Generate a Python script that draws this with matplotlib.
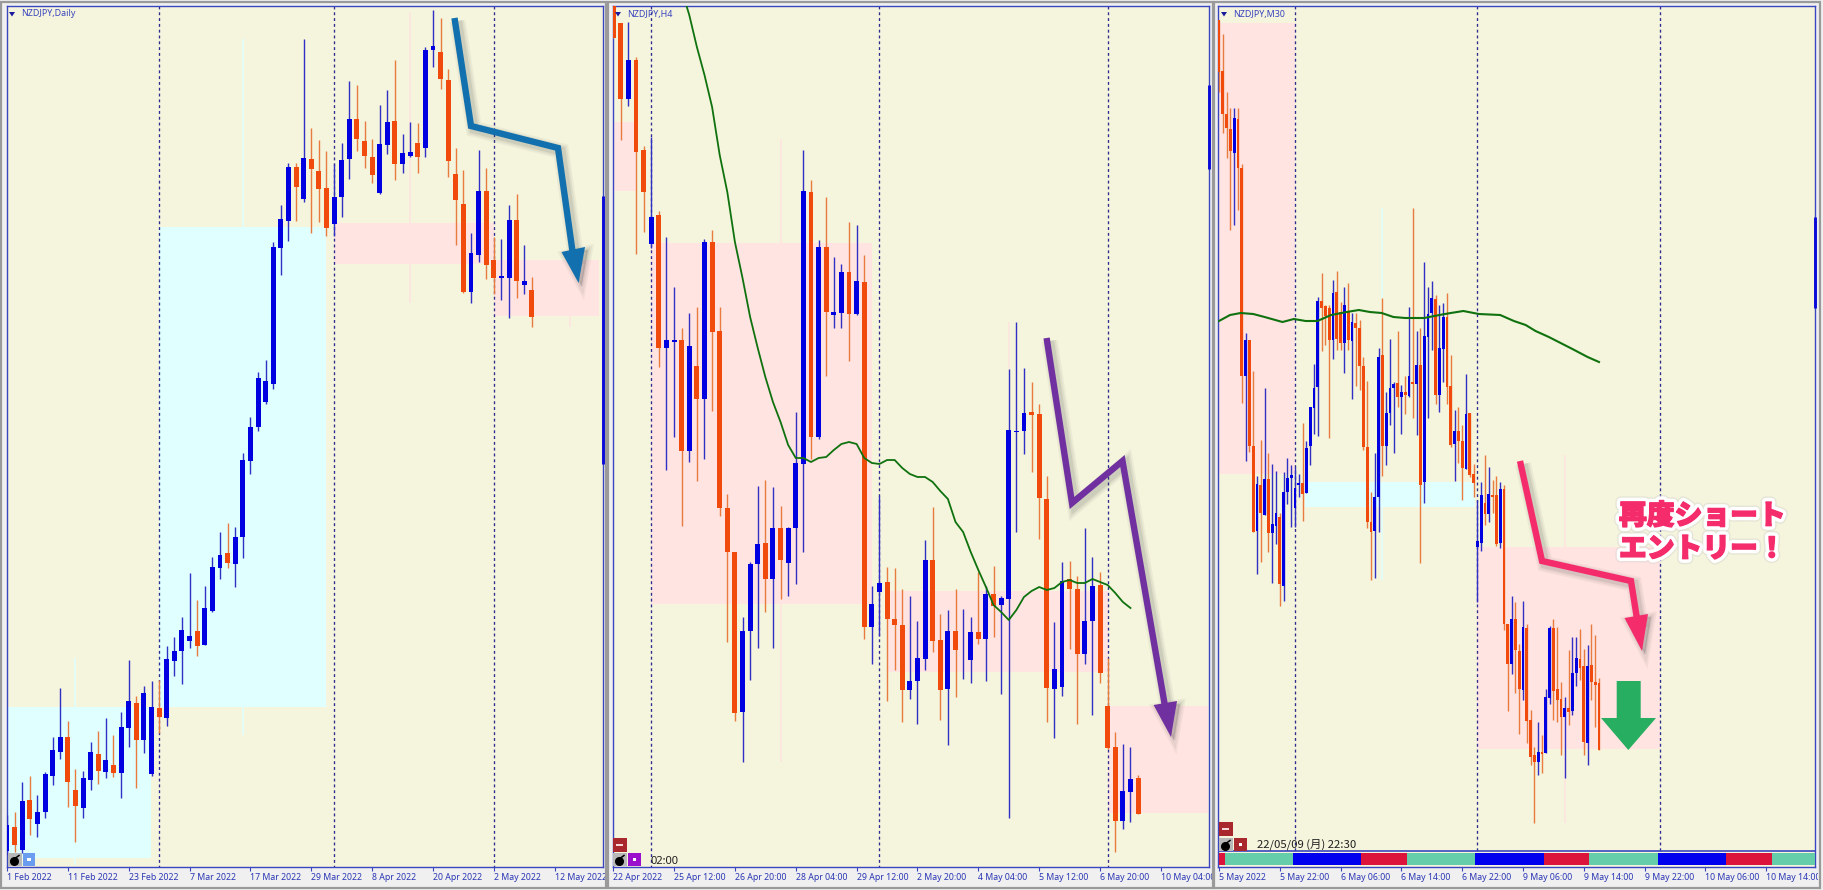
import matplotlib
matplotlib.use("Agg")
import matplotlib.pyplot as plt
import matplotlib.patheffects as pe
from matplotlib.patches import Rectangle

W, H = 1824, 890
BLUE, ORANGE = "#0000e0", "#f04a0c"
BLUE_W, ORANGE_W = "#3030c4", "#e87c3e"
PINK, CYAN, BG = "#ffe4e1", "#e0ffff", "#f5f4dc"
FRAME, TXT = "#3a46c0", "#2a36b4"

# ---- values, in chart rows (row 0 = top of the window) ----
# B = rising candle, O = falling candle
daily_dir = ("BOBOBBBBOO" "BBOBOBBOBB" "OBBBBOBBBO" "BBBBBBBBOB" "OOOBBBOOOB" "BOBBOBBOOO" "OBBOOBBOBO")
daily_high = [815,812,782,776,795,772,737,688,721,769,771,742,731,718,735,712,660,696,686,681,680,646,637,617,573,600,586,557,532,523,527,453,417,372,360,242,205,163,163,39,128,140,151,164,143,81,85,121,139,105,90,60,134,122,123,47,10,18,69,148,170,233,150,168,237,239,205,194,245,277]
daily_top = [825,827,801,800,812,774,750,737,737,790,778,752,754,760,765,727,701,703,693,707,708,659,651,630,636,631,608,567,555,553,537,460,427,378,381,247,219,167,167,158,159,171,188,197,160,119,119,141,157,144,122,121,153,152,143,50,46,52,80,174,204,253,191,191,260,276,220,220,281,290]
daily_bot = [851,845,850,819,824,812,776,752,782,806,808,780,771,772,773,773,728,740,740,774,717,718,661,651,641,646,645,611,568,563,564,537,461,427,402,384,248,221,187,199,169,189,228,224,197,159,139,156,175,193,145,164,164,156,157,148,50,79,161,200,292,292,255,265,278,278,278,281,285,317]
daily_low = [855,852,853,835,837,818,785,759,807,842,818,790,784,778,777,798,747,788,753,776,733,726,676,684,648,656,645,612,579,568,587,558,474,431,404,389,275,241,221,202,233,222,236,236,217,179,151,168,183,194,154,180,173,157,173,157,67,89,177,245,293,303,262,279,294,300,318,298,294,327]

h4_dir = ("OOBOOBOBBO" "BOBOOOOBBB" "OBOBBBOBOB" "BOBOBBOOOB" "BBOOBOBBOB" "OBBBBOOOBB" "OOBBOOOBBO")
h4_high = [6,23,22,57,146,137,211,237,287,328,313,307,239,230,307,494,552,617,562,486,480,487,506,527,412,150,180,240,197,257,264,222,225,255,586,496,567,568,589,596,621,540,507,614,610,589,609,617,572,586,566,596,369,322,368,382,404,476,622,562,561,576,528,557,572,658,732,744,747,775]
h4_top = [6,23,60,60,150,217,215,340,340,340,346,366,242,242,331,508,552,631,564,544,543,528,528,528,463,191,192,247,247,312,272,272,281,282,604,583,582,619,625,681,658,560,560,640,631,631,650,632,632,594,594,598,430,431,413,412,414,499,669,581,579,589,621,586,585,706,747,791,779,778]
h4_bot = [38,99,99,152,192,244,348,348,342,451,451,399,399,332,508,552,713,712,631,564,579,579,560,563,528,464,437,437,312,315,313,314,314,627,627,592,619,625,690,690,681,659,641,690,689,650,650,660,639,639,606,605,599,432,431,415,498,688,689,687,589,654,654,621,673,748,821,821,792,814]
h4_low = [38,140,106,254,232,248,367,470,437,526,462,481,459,411,516,642,721,762,680,648,612,648,599,596,584,552,459,439,376,328,328,361,315,639,664,636,701,670,722,699,724,670,652,720,745,697,679,683,644,681,637,694,818,532,454,472,539,722,738,696,649,724,664,715,683,749,852,829,822,814]
h4_ma_idx = [9.6] + list(range(10, 69))
h4_ma = [5,15,47,75,107,155,192,242,278,317,348,377,402,422,445,458,458,462,458,457,450,444,442,444,458,463,464,460,460,468,474,477,477,482,491,499,522,532,552,570,587,605,612,620,610,597,591,587,590,588,582,580,583,583,579,582,585,593,602,608]

m30_dir = ("OOOOBOOBOO" "BOBOBBOBBB" "BBOBBBBOOO" "BOOBOBOOOO" "OBBOBBBOBO" "BOBOBBBOBB"
           "OOBOOBOOBB" "OBOOBOOBOO" "BOOOBOBBOO" "OBOBBOOBOO" "O")
m30_high = [20,34,92,108,108,108,164,333,340,371,476,440,388,453,464,471,513,472,458,465,467,474,423,441,407,364,297,273,305,305,280,271,302,287,283,313,313,320,357,381,492,453,348,298,392,339,382,331,385,376,307,208,331,328,262,287,281,295,305,303,293,355,410,407,425,374,413,464,500,482,455,467,480,476,482,485,624,596,602,644,601,624,710,747,722,735,689,626,619,627,682,697,650,637,637,629,649,645,624,635,678]
m30_top = [20,71,114,129,118,119,168,340,340,446,484,485,479,479,524,513,517,492,478,475,488,483,483,448,407,388,301,301,306,308,293,292,312,305,312,322,323,328,366,447,522,497,357,355,413,388,384,383,392,392,376,382,365,365,336,314,298,299,348,317,317,386,431,431,441,414,413,474,541,495,503,494,495,495,489,489,624,619,619,651,627,628,720,755,752,752,697,628,628,689,699,708,708,673,658,659,666,666,665,682,683]
m30_bot = [72,114,128,151,153,168,376,376,446,532,531,513,515,533,533,526,584,586,492,478,508,485,494,493,446,408,387,308,316,340,340,339,343,343,340,341,328,366,447,522,532,531,497,446,446,413,388,397,397,395,396,384,384,485,482,337,313,395,395,349,387,445,444,441,468,469,475,483,547,543,514,514,497,544,543,624,664,664,650,689,690,721,757,762,762,754,753,698,691,700,717,717,712,711,673,668,742,743,682,685,750]
m30_low = [92,133,158,230,225,210,403,461,452,532,574,562,515,552,583,544,606,601,504,527,527,497,521,493,465,434,436,351,345,438,359,350,350,373,350,399,386,390,450,528,580,578,532,476,465,425,453,407,434,414,397,418,435,563,503,418,350,404,412,382,404,447,481,463,500,469,477,497,602,551,525,522,513,546,548,630,711,674,693,734,700,743,765,823,775,773,753,704,720,722,755,778,725,715,686,680,755,765,700,727,750]
m30_ma_idx = [0,2.9,5.7,9,12,16.7,19.7,22.8,25.9,29.5,33.6,36.8,39.7,42.8,45.9,49,54,58,61,64.3,68.4,74,77.6,80.7,83.3,86.8,89.9,93,97,100]
m30_ma = [321,315,313,314,317,322,319,321,321,315,312,310,312,313,317,318,318,315,313,311,314,315,321,325,331,337,343,349,357,362]

daily_ticks = ["1 Feb 2022","11 Feb 2022","23 Feb 2022","7 Mar 2022","17 Mar 2022","29 Mar 2022","8 Apr 2022","20 Apr 2022","2 May 2022","12 May 2022"]
h4_ticks = ["22 Apr 2022","25 Apr 12:00","26 Apr 20:00","28 Apr 04:00","29 Apr 12:00","2 May 20:00","4 May 04:00","5 May 12:00","6 May 20:00","10 May 04:00"]
m30_ticks = ["5 May 2022","5 May 22:00","6 May 06:00","6 May 14:00","6 May 22:00","9 May 06:00","9 May 14:00","9 May 22:00","10 May 06:00","10 May 14:00"]

# zones: (start bar, end bar, top row, bottom row, colour)
daily_zones = [(20,42,227,707,CYAN),(-1,18.9,707,858,CYAN),(43,64,223,264,PINK),(64,77.8,260,316,PINK)]
h4_zones = [(-1,3,122,191,PINK),(5,34,243,604,PINK),(36,65,591,672,PINK),(65,78.2,706,813,PINK)]
m30_zones = [(-1,20,23,474,PINK),(22.6,67.4,482,507,CYAN),(68,116,547,749,PINK)]
# pale range marks: (bar, top row, bottom row, colour)
daily_pale = [(31,39,227,CYAN),(31,707,735,CYAN),(9,658,707,CYAN),(9,858,865,CYAN),(53,12,303,PINK),(74,316,327,PINK)]
h4_pale = [(22,139,243,PINK),(22,604,762,PINK),(52,322,369,PINK)]
m30_pale = [(43,208,298,CYAN),(43,507,580,CYAN),(91,455,547,PINK),(91,749,823,PINK)]
daily_days, h4_days, m30_days = [20,43,64], [5,35,65], [20,68,116]
strip_len = [1.5,18,18,12,18,18,12,18,18,12,14.5]
strip_col = ["#dc143c","#66cdaa","#0000ee","#dc143c","#66cdaa","#0000ee","#dc143c","#66cdaa","#0000ee","#dc143c","#66cdaa"]

blue_arrow = [(454.5,18),(471,126),(558,148),(574,262)]
blue_head = [(561.5,252),(585,247),(578.6,283)]
purple_arrow = [(1046.6,338),(1072,503),(1122.5,461),(1166,712)]
purple_head = [(1153.6,705),(1177,701),(1171,737)]
pink_arrow = [(1520,461),(1542,561),(1631,581),(1638,625)]
pink_head = [(1624.5,618),(1648,614),(1642,651)]
green_arrow = [(1616.7,681),(1640.7,681),(1640.7,718),(1656,718),(1628.3,750),(1601,718),(1616.7,718)]

fig = plt.figure(figsize=(W/100, H/100), dpi=100, facecolor="#f0f0f0")
over = fig.add_axes([0, 0, 1, 1], zorder=10)
over.set_xlim(0, W); over.set_ylim(H, 0); over.axis("off"); over.patch.set_alpha(0)


def panel(l, r, t, b, bar0, per, zones, pale, days, ticks, step, days_bottom):
    ax = fig.add_axes([l/W, 1-b/H, (r-l)/W, (b-t)/H], facecolor=BG)
    ax.set_xlim((l-bar0)/per, (r-bar0)/per)
    ax.set_ylim(b, t)
    ax.set_yticks([])
    for s in ax.spines.values():
        s.set_color(FRAME); s.set_linewidth(1.0)
    ax.set_xticks([i*step for i in range(len(ticks))])
    ax.set_xticklabels(ticks, ha="left", fontsize=6.3, color=TXT, family="Noto Sans")
    ax.tick_params(axis="x", length=3, width=0.8, color=FRAME, pad=1.5)
    clip = Rectangle((l-3, 0), r-l+6, H, transform=over.transData)
    for lab in ax.get_xticklabels():
        lab.set_clip_on(True); lab.set_clip_path(clip)
    for a, e, tp, bt, c in zones:
        ax.fill_between([a, e], tp, bt, color=c, lw=0, zorder=1)
    for i, tp, bt, c in pale:
        ax.vlines(i, tp, bt, color=c, lw=1.1, zorder=1.2)
    ax.vlines(days, t, days_bottom, color="#2c2c90", lw=0.95, linestyles=(0, (2.2, 2.2)), zorder=1.5)
    return ax


def candles(ax, dirs, high, top, bot, low, width):
    idx = list(range(len(high)))
    wick = [BLUE_W if d == "B" else ORANGE_W for d in dirs]
    body = [BLUE if d == "B" else ORANGE for d in dirs]
    ax.vlines(idx, high, low, colors=wick, lw=1.0, zorder=3)
    ax.bar(idx, [b-a for a, b in zip(top, bot)], bottom=top, width=width, color=body, lw=0, zorder=4)


ax1 = panel(7, 603, 6, 867, 7, 7.607, daily_zones, daily_pale, daily_days, daily_ticks, 8, 867)
candles(ax1, daily_dir, daily_high, daily_top, daily_bot, daily_low, 0.65)

ax2 = panel(613, 1209, 6, 867, 613.2, 7.607, h4_zones, h4_pale, h4_days, h4_ticks, 8, 867)
candles(ax2, h4_dir, h4_high, h4_top, h4_bot, h4_low, 0.65)
ax2.plot(h4_ma_idx, h4_ma, color="#0f720f", lw=1.3, zorder=5)

ax3 = panel(1218, 1815, 6, 867, 1219, 3.8, m30_zones, m30_pale, m30_days, m30_ticks, 16, 851)
candles(ax3, m30_dir, m30_high, m30_top, m30_bot, m30_low, 0.74)
ax3.plot(m30_ma_idx, m30_ma, color="#0f720f", lw=1.5, zorder=5)
ax3.hlines(851, -1, 160, color=FRAME, lw=1.2, zorder=6)
pos = 0
for n, c in zip(strip_len, strip_col):
    ax3.broken_barh([(pos, n)], (852.5, 12.5), facecolors=c, lw=0, zorder=6)
    pos += n

# right-hand scale markers
for x, y0, y1 in [(603.5, 196, 464), (1209, 85, 169), (1815, 217, 308)]:
    over.plot([x, x], [y0, y1], color="#0a0ad8", lw=2.1, solid_capstyle="butt")

# window borders
for x0, x1 in [(1.5, 606.5), (608, 1213), (1214, 1820)]:
    over.add_patch(Rectangle((x0, 1.5), x1-x0, 886, fill=False, ec="#9a9a9a", lw=1.6))

# titles
for x, s in [(21, "NZDJPY,Daily"), (627, "NZDJPY,H4"), (1233, "NZDJPY,M30")]:
    over.fill([x-12, x-6, x-9], [12, 12, 16.5], color="#1a1aa0", lw=0)
    over.text(x, 14, s, fontsize=6.4, color="#3a46c0", va="center", ha="left", family="Noto Sans")


def bomb(x, y):
    over.add_patch(Rectangle((x, y), 14, 13, fc="#b8b8b8", ec="none"))
    over.plot([x+6], [y+8], "o", color="black", ms=5.5)
    over.plot([x+7.5, x+11], [y+5, y+2.5], color="black", lw=1.1)


def button(x, y, w, h, col, kind):
    over.add_patch(Rectangle((x, y), w, h, fc=col, ec="none"))
    if kind == "minus":
        over.add_patch(Rectangle((x+w/2-3.5, y+h/2-0.8), 7, 1.8, fc="#f6d8d8", ec="none"))
    else:
        over.add_patch(Rectangle((x+w/2-1.5, y+h/2-1.5), 3.2, 3.2, fc="white", ec="none"))


bomb(8, 853); button(23, 853, 12, 13, "#6a9cf0", "dot")
button(613, 838, 14, 14, "#a8282e", "minus"); bomb(613, 853); button(628, 853, 13, 13, "#9a10cc", "dot")
button(1219, 822, 14, 14, "#a8282e", "minus"); bomb(1219, 838); button(1234, 838, 13, 13, "#a8282e", "dot")
over.text(651, 861, "02:00", fontsize=8, color="#202020", va="center", family="Noto Sans")
over.text(1257, 844, "22/05/09 (月) 22:30", fontsize=8.2, color="#202020", va="center",
          family=["Noto Sans CJK JP", "DejaVu Sans"])


def soft_shadow(xs, ys, lw=None):
    for grow, alpha in [(7, 0.05), (4.5, 0.07), (2, 0.10)]:
        if lw is None:
            over.fill([x+3 for x in xs], [y+3 for y in ys], color="#404040", alpha=alpha, lw=grow,
                      joinstyle="miter", zorder=20)
        else:
            over.plot([x+3 for x in xs], [y+3 for y in ys], color="#404040", alpha=alpha,
                      lw=lw+grow, solid_joinstyle="miter", solid_capstyle="butt", zorder=20)


for line, head, col, lw in [(blue_arrow, blue_head, "#1170ad", 4.6),
                            (purple_arrow, purple_head, "#7030a0", 4.6),
                            (pink_arrow, pink_head, "#f52c6c", 4.6)]:
    lx, ly = zip(*line); hx, hy = zip(*head)
    soft_shadow(lx, ly, lw)
    soft_shadow(hx, hy)
    over.plot(lx, ly, color=col, lw=lw, solid_joinstyle="miter", solid_capstyle="butt", zorder=21)
    over.fill(hx, hy, color=col, lw=0, zorder=21)
gx, gy = zip(*green_arrow)
over.fill(gx, gy, color="#27ae60", lw=0, zorder=21)

for y, s in [(516, "再度ショート"), (549, "エントリー！")]:
    over.text(1619, y, s, fontsize=20, fontweight="black", color="#f52c6c", va="center", ha="left",
              family=["Noto Sans CJK JP", "DejaVu Sans"], zorder=22,
              path_effects=[pe.withStroke(linewidth=8, foreground="#cfcfcf", alpha=0.4),
                            pe.withStroke(linewidth=6, foreground="white"),
                            pe.withStroke(linewidth=1.0, foreground="#f52c6c"),
                            pe.Normal()])

fig.savefig("out.png", dpi=100, facecolor=fig.get_facecolor())
